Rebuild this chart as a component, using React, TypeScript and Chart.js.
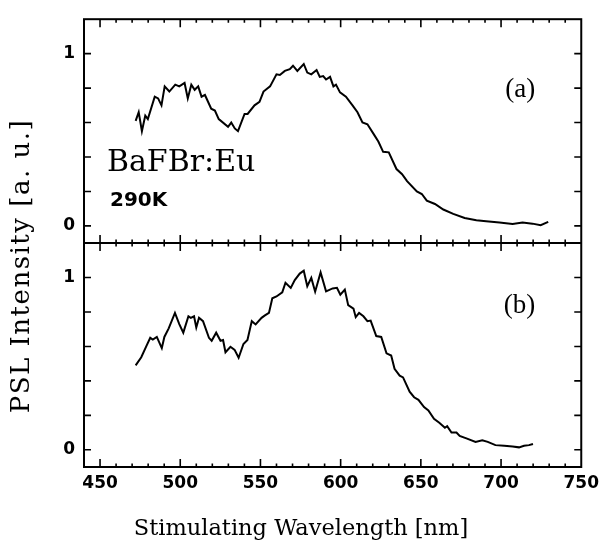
import React, { useEffect, useRef } from "react";
import { Chart, registerables } from "chart.js";

Chart.register(...registerables);

// ---- Data ----
const wavelengthA = [
  472.2, 474.1, 476.1, 478.2, 479.8, 484.1, 486.2, 488.3, 490.3, 493.2, 496.9, 499.4, 502.7, 504.7,
  506.9, 509.0, 511.2, 513.3, 515.4, 519.3, 521.6, 524.0, 529.8, 531.8, 534.0, 536.0, 540.1, 542.0,
  546.3, 549.4, 551.9, 556.0, 560.0, 562.1, 565.2, 568.3, 570.3, 573.0, 577.0, 579.2, 581.7, 585.0,
  587.0, 589.1, 590.9, 593.4, 595.5, 597.1, 599.6, 603.3, 607.4, 610.5, 613.6, 616.7, 620.8, 623.5,
  626.5, 630.0, 634.8, 638.3, 641.4, 647.5, 650.6, 653.7, 658.8, 664.0, 670.2, 677.3, 684.6, 690.7,
  699.0, 707.2, 713.4, 719.6, 724.7, 729.4,
];
const intensityA = [
  0.61, 0.66, 0.55, 0.64, 0.62, 0.75, 0.74, 0.70, 0.81, 0.78, 0.82, 0.81, 0.83, 0.74,
  0.82, 0.79, 0.81, 0.75, 0.76, 0.68, 0.67, 0.62, 0.575, 0.60, 0.566, 0.55, 0.65, 0.65,
  0.70, 0.72, 0.78, 0.81, 0.88, 0.876, 0.90, 0.91, 0.93, 0.90, 0.94, 0.89, 0.88, 0.905,
  0.865, 0.87, 0.85, 0.865, 0.81, 0.82, 0.775, 0.75, 0.70, 0.66, 0.60, 0.59, 0.53, 0.49,
  0.43, 0.427, 0.33, 0.30, 0.26, 0.20, 0.185, 0.147, 0.127, 0.095, 0.07, 0.046, 0.033, 0.027,
  0.019, 0.011, 0.019, 0.013, 0.004, 0.023,
];

const wavelengthB = [
  472.2, 475.7, 478.8, 481.3, 482.9, 485.4, 488.5, 490.1, 492.8, 496.7, 499.4, 501.9, 505.1, 506.6,
  508.6, 510.0, 511.7, 514.2, 517.9, 519.6, 522.4, 525.1, 526.7, 528.2, 531.3, 533.9, 536.4, 539.4,
  541.9, 544.6, 547.0, 550.7, 552.8, 555.3, 557.4, 560.0, 563.6, 565.6, 568.9, 571.4, 574.5, 577.0,
  579.2, 581.7, 584.1, 587.5, 590.9, 595.0, 597.7, 599.8, 602.6, 604.7, 608.0, 609.4, 611.5, 614.2,
  616.7, 618.7, 622.2, 625.3, 628.6, 631.5, 633.6, 636.8, 638.9, 643.0, 645.8, 648.5, 652.0, 654.7,
  658.2, 661.5, 665.0, 666.4, 669.1, 672.2, 674.2, 678.8, 684.1, 688.3, 691.7, 696.5, 702.0, 707.2,
  711.2, 714.3, 717.4, 719.9,
];
const intensityB = [
  0.49, 0.537, 0.60, 0.65, 0.64, 0.655, 0.59, 0.655, 0.705, 0.795, 0.73, 0.68, 0.775, 0.766,
  0.775, 0.71, 0.766, 0.747, 0.65, 0.633, 0.68, 0.633, 0.637, 0.566, 0.598, 0.58, 0.534, 0.614,
  0.637, 0.747, 0.728, 0.766, 0.78, 0.795, 0.88, 0.89, 0.914, 0.97, 0.94, 0.985, 1.023, 1.04,
  0.95, 0.998, 0.918, 1.03, 0.92, 0.937, 0.94, 0.90, 0.93, 0.84, 0.82, 0.77, 0.795, 0.775,
  0.747, 0.75, 0.66, 0.655, 0.56, 0.547, 0.47, 0.43, 0.42, 0.337, 0.305, 0.29, 0.248, 0.229,
  0.18, 0.157, 0.128, 0.137, 0.10, 0.10, 0.08, 0.065, 0.046, 0.055, 0.046, 0.027, 0.023, 0.019,
  0.014, 0.023, 0.027, 0.034,
];

const xTickLabels = [450, 500, 550, 600, 650, 700, 750];
const yTickLabels = [0, 1];
const panelLabels = ["(a)", "(b)"];
const sampleName = "BaFBr:Eu";
const temperatureLabel = "290K";
const xTitle = "Stimulating Wavelength [nm]";
const yTitle = "PSL Intensity [a. u.]";

const framePlugin = {
  id: "frame",
  afterDatasetsDraw(chart: any) {
    const ctx: CanvasRenderingContext2D = chart.ctx;
    const xs = chart.scales.x;
    const pa = chart.scales.yA;
    const pb = chart.scales.yB;
    const panels = [pa, pb].sort((a: any, b: any) => a.top - b.top);
    const { left, right, top, bottom } = chart.chartArea;
    ctx.save();
    ctx.strokeStyle = "#000";
    ctx.fillStyle = "#000";
    ctx.lineWidth = 2;
    ctx.strokeRect(left, top, right - left, bottom - top);
    // separator between panels
    const mid = panels[0].bottom;
    ctx.beginPath();
    ctx.moveTo(left, mid);
    ctx.lineTo(right, mid);
    ctx.stroke();

    ctx.lineWidth = 1.6;
    ctx.beginPath();
    for (const p of panels) {
      for (const t of xs.ticks) {
        const v = t.value;
        const px = xs.getPixelForValue(v);
        const major = Math.abs(v % 50) < 1e-6;
        const len = major ? 8 : 3.5;
        if (px <= left + 1 || px >= right - 1) continue;
        ctx.moveTo(px, p.top);
        ctx.lineTo(px, p.top + len);
        ctx.moveTo(px, p.bottom);
        ctx.lineTo(px, p.bottom - len);
      }
      for (const t of p.ticks) {
        const v = t.value;
        const r = Math.round(v / 0.2);
        if (Math.abs(v - r * 0.2) > 1e-6 || v < -1e-6 || v > 1.1) continue;
        const py = p.getPixelForValue(v);
        ctx.moveTo(left, py);
        ctx.lineTo(left + 7, py);
        ctx.moveTo(right, py);
        ctx.lineTo(right - 7, py);
      }
    }
    ctx.stroke();

    // annotations
    ctx.textAlign = "center";
    ctx.textBaseline = "middle";
    ctx.font = '27px "Liberation Serif"';
    ctx.fillText(panelLabels[0], xs.getPixelForValue(712), pa.getPixelForValue(0.79));
    ctx.fillText(panelLabels[1], xs.getPixelForValue(711.5), pb.getPixelForValue(0.835));

    ctx.textAlign = "left";
    ctx.textBaseline = "alphabetic";
    ctx.font = '30px "DejaVu Serif"';
    ctx.fillText(sampleName, xs.getPixelForValue(454.3), pa.getPixelForValue(0.32));
    ctx.font = 'bold 20px "DejaVu Sans"';
    ctx.fillText(temperatureLabel, xs.getPixelForValue(456.2), pa.getPixelForValue(0.115));

    // x title
    ctx.textAlign = "center";
    ctx.textBaseline = "alphabetic";
    ctx.font = '22.5px "DejaVu Serif"';
    ctx.fillText(xTitle, 301, 535);

    // y title spanning both panels
    ctx.save();
    ctx.translate(22, (top + bottom) / 2 + 23);
    ctx.rotate(-Math.PI / 2);
    ctx.textAlign = "center";
    ctx.textBaseline = "middle";
    ctx.font = '26px "DejaVu Serif"';
    (ctx as any).letterSpacing = "1.5px";
    ctx.fillText(yTitle, 0, 0);
    ctx.restore();
    ctx.restore();
  },
};

function yScale() {
  return {
    type: "linear" as const,
    position: "left" as const,
    stack: "panels",
    stackWeight: 1,
    min: -0.1,
    max: 1.2,
    grid: { display: false, drawTicks: false },
    border: { display: false },
    ticks: {
      stepSize: 0.2,
      includeBounds: false,
      autoSkip: false,
      padding: 9,
      color: "#000",
      font: { family: "DejaVu Sans", weight: "bold" as const, size: 17 },
      callback: (v: any) => {
        const n = Number(v);
        const hit = yTickLabels.find((l) => Math.abs(l - n) < 1e-6);
        return hit === undefined ? "" : String(hit);
      },
    },
    afterFit: (s: any) => {
      s.width = 84;
    },
  };
}

export default function App() {
  const ref = useRef<HTMLCanvasElement>(null);
  useEffect(() => {
    if (!ref.current) return;
    const chart = new Chart(ref.current, {
      type: "scatter",
      data: {
        datasets: [
          {
            label: "(a)",
            data: wavelengthA.map((x, i) => ({ x, y: intensityA[i] })),
            yAxisID: "yA",
            showLine: true,
            borderColor: "#000",
            borderWidth: 2,
            pointRadius: 0,
            tension: 0,
          },
          {
            label: "(b)",
            data: wavelengthB.map((x, i) => ({ x, y: intensityB[i] })),
            yAxisID: "yB",
            showLine: true,
            borderColor: "#000",
            borderWidth: 2,
            pointRadius: 0,
            tension: 0,
          },
        ],
      },
      options: {
        responsive: false,
        animation: false,
        devicePixelRatio: 1,
        layout: { padding: { top: 14, right: 18, left: 0, bottom: 0 } },
        plugins: { legend: { display: false }, tooltip: { enabled: false } },
        scales: {
          x: {
            type: "linear",
            position: "bottom",
            min: 440,
            max: 750,
            grid: { display: false, drawTicks: false },
            border: { display: false },
            ticks: {
              stepSize: 10,
              autoSkip: false,
              maxRotation: 0,
              padding: 6,
              color: "#000",
              font: { family: "DejaVu Sans", weight: "bold", size: 17 },
              callback: (v: any) => (xTickLabels.includes(Number(v)) ? String(v) : ""),
            },
            title: { display: false, text: xTitle },
            afterFit: (s: any) => {
              s.height = 77;
            },
          },
          // bottom panel listed first: stacked scales are placed bottom-up
          yB: yScale(),
          yA: yScale(),
        },
      },
      plugins: [framePlugin],
    });
    return () => chart.destroy();
  }, []);
  return (
    <div style={{ position: "absolute", left: 0, top: 0, width: 605, height: 544, background: "#fff" }}>
      <canvas ref={ref} width={605} height={544} />
    </div>
  );
}
